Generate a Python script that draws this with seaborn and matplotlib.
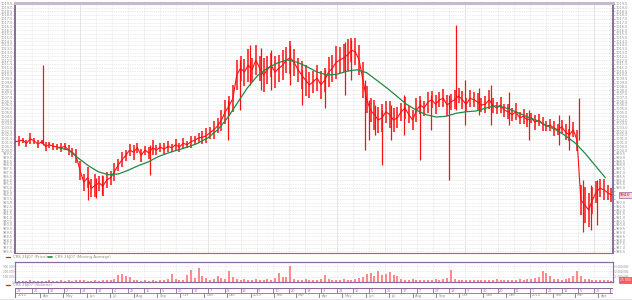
import numpy as np
import pandas as pd
import matplotlib
matplotlib.use("Agg")
import matplotlib.pyplot as plt
from matplotlib.lines import Line2D
from matplotlib.patches import Rectangle
import seaborn as sns

sns.set_style("white")
plt.rcParams['font.family'] = ['DejaVu Sans']

# ---------------- data ----------------
series_name = "CRS 26J07"
price_start = "2012-02-28"          # closes every 5 days
price_close = [
    1001.1, 1001.2, 1001.3, 1000.9, 1001.5, 1001.2, 1000.8, 1001.1, 1000.5, 1000.7,
    1000.5, 1000.4, 1000.3, 1000.5, 1000.0, 999.7, 999.2, 997.3, 995.7, 996.3,
    994.9, 995.3, 995.6, 995.2, 996.0, 996.3, 997.1, 998.0, 998.7, 999.3,
    1000.0, 999.7, 1000.3, 999.3, 1000.0, 999.6, 1000.3, 1000.0, 1000.4, 1000.1,
    1000.5, 1000.3, 1000.7, 1000.4, 1000.9, 1000.7, 1001.1, 1001.3, 1001.6, 1001.7,
    1001.9, 1002.3, 1002.7, 1003.2, 1004.0, 1005.1, 1005.9, 1006.9, 1010.0, 1010.9,
    1010.4, 1011.3, 1010.7, 1012.0, 1010.9, 1010.0, 1010.7, 1011.3, 1010.4, 1010.9,
    1011.3, 1012.0, 1012.3, 1011.7, 1010.7, 1010.0, 1009.3, 1008.7, 1009.1, 1009.6,
    1008.7, 1009.3, 1010.4, 1010.9, 1011.7, 1012.0, 1012.3, 1012.7, 1013.3, 1013.1,
    1012.0, 1009.3, 1006.7, 1005.3, 1004.7, 1004.0, 1004.3, 1005.1, 1004.7, 1004.0,
    1004.3, 1005.1, 1005.6, 1004.7, 1004.0, 1005.3, 1006.0, 1005.6, 1006.4, 1006.7,
    1006.1, 1006.7, 1006.9, 1006.0, 1006.4, 1006.7, 1007.2, 1006.7, 1006.1, 1006.9,
    1006.7, 1006.4, 1006.0, 1006.1, 1006.7, 1005.9, 1005.6, 1006.0, 1005.3, 1005.1,
    1004.7, 1005.1, 1004.3, 1004.5, 1004.0, 1004.3, 1003.7, 1004.0, 1003.5, 1003.2,
    1003.3, 1002.9, 1002.7, 1003.1, 1002.4, 1002.0, 1002.7, 1001.3, 993.3, 992.7,
    992.0, 993.3, 994.4, 994.9, 994.7, 994.3, 994.0,
]
# half of the daily high-low range around each close
price_halfrange = [
    0.4, 0.6, 0.3, 0.5, 0.7, 0.4, 0.5, 0.3, 0.6, 0.4,
    0.5, 0.4, 0.6, 0.5, 0.7, 0.6, 0.9, 1.3, 1.1, 1.4,
    1.2, 1.5, 1.0, 1.3, 1.1, 0.9, 1.2, 0.8, 1.0, 0.7,
    0.8, 1.0, 0.7, 0.9, 0.6, 0.8, 1.0, 0.7, 0.6, 0.8,
    0.7, 0.5, 0.8, 0.6, 0.7, 0.5, 0.8, 0.6, 0.7, 0.9,
    1.0, 0.8, 1.2, 1.0, 1.4, 1.6, 1.3, 1.8, 2.0, 1.7,
    1.8, 2.2, 1.6, 2.0, 1.7, 2.3, 1.9, 1.6, 2.1, 1.8,
    2.0, 1.7, 2.2, 1.8, 1.6, 1.9, 2.1, 1.7, 1.5, 1.8,
    1.9, 1.6, 2.0, 1.8, 2.2, 1.7, 1.9, 2.1, 1.6, 1.8,
    2.0, 2.4, 1.8, 1.6, 2.0, 1.7, 1.9, 1.5, 1.8, 1.6,
    1.4, 1.2, 1.5, 1.1, 1.3, 1.6, 1.2, 1.0, 1.4, 1.1,
    1.3, 1.0, 1.2, 1.4, 1.1, 1.3, 1.0, 1.2, 0.9, 1.1,
    1.0, 1.2, 0.9, 1.1, 1.3, 1.0, 0.8, 1.1, 0.9, 1.0,
    0.9, 1.1, 0.8, 1.0, 0.9, 0.7, 1.0, 0.8, 0.9, 0.7,
    0.8, 1.0, 0.7, 0.9, 1.1, 0.8, 1.0, 1.4, 2.0, 2.4,
    2.2, 1.8, 1.5, 1.2, 1.4, 1.0, 0.9,
]
spike_dates = ["2012-04-05", "2012-06-02", "2012-06-13", "2012-06-21", "2012-08-22",
               "2012-12-02", "2012-12-18", "2012-12-31", "2013-01-15", "2013-01-28",
               "2013-02-21", "2013-03-09", "2013-04-09", "2013-05-04", "2013-05-13",
               "2013-05-31", "2013-06-05", "2013-06-13", "2013-06-22", "2013-07-04",
               "2013-07-21", "2013-08-10", "2013-08-25", "2013-09-18", "2013-09-27",
               "2013-10-09", "2013-10-27", "2013-11-12", "2013-12-05", "2013-12-31",
               "2014-02-08", "2014-02-21", "2014-03-07", "2014-03-12", "2014-03-22",
               "2014-03-30"]
spike_low = [1000.7, 993.3, 993.6, 994.0, 996.7,
             1001.3, 1005.3, 1008.7, 1008.0, 1008.0,
             1008.7, 1006.0, 1005.6, 1007.3, 1009.3,
             1000.0, 1001.3, 1002.0, 998.0, 1001.3,
             1002.0, 998.7, 1002.7, 996.0, 1005.3,
             1003.3, 1004.7, 1003.3, 1003.3, 1001.3,
             1000.7, 1000.0, 1001.3, 989.1, 989.3,
             990.0]
spike_high = [1011.3, 996.0, 996.3, 996.7, 1000.7,
              1006.7, 1012.0, 1014.0, 1013.6, 1013.3,
              1014.0, 1010.7, 1010.7, 1014.4, 1014.7,
              1009.3, 1006.7, 1006.0, 1005.3, 1006.0,
              1007.3, 1006.7, 1007.3, 1007.3, 1016.7,
              1009.3, 1008.3, 1008.7, 1007.7, 1005.3,
              1004.7, 1004.7, 1006.9, 996.0, 995.3,
              996.0]

ma_start = "2012-04-25"             # moving average every 13 days
ma_values = [
    1000.3, 1000.0, 998.9, 997.9, 997.1, 996.7, 996.8, 997.3, 997.9, 998.4,
    999.1, 999.6, 1000.0, 1000.4, 1000.9, 1001.6, 1002.7, 1004.3, 1006.3, 1008.3,
    1009.9, 1010.9, 1011.6, 1012.0, 1011.7, 1011.1, 1010.4, 1010.0, 1010.1, 1010.5,
    1010.7, 1010.3, 1009.3, 1008.3, 1007.2, 1006.1, 1005.3, 1004.7, 1004.4, 1004.5,
    1004.9, 1005.1, 1005.2, 1005.6, 1005.9, 1005.6, 1005.1, 1004.5, 1004.0, 1003.3,
    1002.7, 1001.9, 1000.9, 999.5, 997.9, 996.3,
]

volume_k = [   # thousands, every 5 days (same dates as price)
    20, 15, 25, 10, 30, 20, 15, 25, 20, 35,
    25, 20, 30, 15, 40, 25, 30, 45, 35, 20,
    25, 30, 20, 40, 35, 30, 60, 130, 160, 110,
    90, 40, 30, 25, 35, 20, 30, 25, 40, 30,
    50, 150, 60, 40, 30, 130, 230, 80, 260, 120,
    70, 40, 60, 120, 80, 50, 210, 90, 60, 40,
    50, 40, 30, 60, 45, 35, 50, 40, 70, 170,
    90, 90, 310, 60, 40, 35, 50, 45, 30, 40,
    60, 130, 50, 40, 45, 35, 60, 40, 30, 50,
    70, 90, 150, 180, 120, 200, 140, 160, 190, 130,
    110, 60, 40, 30, 50, 35, 45, 30, 40, 35,
    50, 40, 60, 70, 220, 60, 40, 30, 35, 30,
    40, 30, 45, 35, 30, 40, 50, 35, 40, 45,
    40, 35, 50, 45, 60, 50, 70, 90, 200, 170,
    120, 60, 50, 40, 60, 70, 120, 200, 110, 60,
    50, 40, 45, 35, 40, 30, 25,
]

month_labels = ["2012", "Apr", "May", "Jun", "Jul", "Aug", "Sep", "Oct", "Nov", "Dec",
                "2013", "Feb", "Mar", "Apr", "May", "Jun", "Jul", "Aug", "Sep", "Oct",
                "Nov", "Dec", "2014", "Feb", "Mar", "Apr"]
price_ticks = [986.5 + 0.5 * k for k in range(67)]
vol_left_labels = ["0", "100 000", "200 000", "300 000"]
vol_right_labels = ["1 000 000", "2 000 000", "3 000 000"]
legend_labels = [f"{series_name} (Price)", f"{series_name} (Moving Average)", f"{series_name} (Volume)"]

# ---------------- styling ----------------
RED = "#ff1010"
GREEN = "#1f8a45"
VOLC = "#ff8a8a"
PURPLE = "#8a6a99"
LPURPLE = "#c9b6d1"
GRID = "#d9d9d9"
TXT = "#8c8c8c"

W, H = 632, 300
fig = plt.figure(figsize=(W / 100, H / 100), dpi=100)


def rect(x0, y0, x1, y1):
    return [x0 / W, 1 - y1 / H, (x1 - x0) / W, (y1 - y0) / H]


xmin = pd.Timestamp("2012-02-28")
xmax = pd.Timestamp("2014-04-20")
dates = pd.date_range(price_start, periods=len(price_close), freq="5D")
ma_dates = pd.date_range(ma_start, periods=len(ma_values), freq="13D")
ticks21 = pd.date_range("2012-03-21", xmax, freq="21D")
months = pd.date_range("2012-03-01", "2014-04-01", freq="MS")
ylo, yhi = 1020 - 253 / 7.5, 1020 - 3 / 7.5

# ---------------- price panel ----------------
ax = fig.add_axes(rect(15, 3, 613, 253))
ax.set_xlim(xmin, xmax)
ax.set_ylim(ylo, yhi)
for v in price_ticks:
    ax.axhline(v, color=GRID, lw=0.5, ls=(0, (1, 1.5)), zorder=0)
for k, d in enumerate(ticks21):
    solid = (k % 8 == 3)
    ax.axvline(d, color="#e0e0e0" if solid else GRID, lw=0.6 if solid else 0.5,
               ls="-" if solid else (0, (1, 1.5)), zorder=0)

close = np.array(price_close)
half = np.array(price_halfrange)
df_price = pd.DataFrame({"date": dates, "price": close})
df_ma = pd.DataFrame({"date": ma_dates, "ma": ma_values})
ax.vlines(dates, close - half, close + half, color=RED, lw=1.1, zorder=2)
ax.vlines(pd.to_datetime(spike_dates), spike_low, spike_high, color=RED, lw=0.9, zorder=3)
sns.lineplot(data=df_price, x="date", y="price", ax=ax, color=RED, lw=0.8, zorder=3)
sns.lineplot(data=df_ma, x="date", y="ma", ax=ax, color=GREEN, lw=0.9, zorder=4)

ax.set_yticks(price_ticks)
ax.set_yticklabels([f"{v:.1f}" for v in price_ticks])
ax.tick_params(axis="y", labelsize=2.5, colors=TXT, length=1.2, width=0.4, pad=0.6,
               left=True, right=False, labelleft=True, labelright=False)
ax.tick_params(axis="x", bottom=False, labelbottom=False)
ax.set_xlabel("")
ax.set_ylabel("")
for s in ["left", "right"]:
    ax.spines[s].set_color(PURPLE)
    ax.spines[s].set_linewidth(1.4)
ax.spines["top"].set_color(LPURPLE)
ax.spines["top"].set_linewidth(2.2)
ax.spines["bottom"].set_color(PURPLE)
ax.spines["bottom"].set_linewidth(0.8)

# right-hand price scale, with the last-price box covering the labels behind it
last = price_close[-1]
ax2 = ax.twinx()
ax2.set_ylim(ylo, yhi)
ax2.set_yticks(price_ticks)
ax2.set_yticklabels(["" if abs(v - last) < 0.8 else f"{v:.1f}" for v in price_ticks])
ax2.tick_params(axis="y", labelsize=2.5, colors=TXT, length=1.2, width=0.4, pad=0.6)
for s in ax2.spines.values():
    s.set_visible(False)
ax2.text(1.012, (last - ylo) / (yhi - ylo), f"{last:.1f}", transform=ax2.transAxes,
         fontsize=2.6, color="#cc0000", ha="left", va="center",
         bbox=dict(boxstyle="square,pad=0.25", fc="#ffd6de", ec=PURPLE, lw=0.5))

# ---------------- legend rows ----------------
def legend_item(x, y, color, label, lw=0.9):
    fig.add_artist(Line2D([x / W, (x + 4) / W], [1 - y / H, 1 - y / H], color=color, lw=lw))
    fig.text((x + 7) / W, 1 - y / H, label, fontsize=2.8, color=TXT, va="center", ha="left")


legend_item(6, 257, RED, legend_labels[0])
legend_item(48, 257, GREEN, legend_labels[1], lw=1.2)
legend_item(6, 285, RED, legend_labels[2])

# ---------------- volume panel ----------------
axv = fig.add_axes(rect(15, 262, 613, 282))
axv.set_xlim(xmin, xmax)
axv.set_ylim(0, 380)
for v in [100, 200, 300]:
    axv.axhline(v, color=GRID, lw=0.5, ls=(0, (1, 1.5)), zorder=0)
for d in ticks21:
    axv.axvline(d, color=GRID, lw=0.5, ls=(0, (1, 1.5)), zorder=0)
axv.bar(dates, volume_k, width=2.6, color=VOLC, lw=0, zorder=2)
axv.set_yticks([0, 100, 200, 300])
axv.set_yticklabels(vol_left_labels)
axv.tick_params(axis="y", labelsize=2.0, colors=TXT, length=0.8, width=0.4, pad=0.3)
axv.tick_params(axis="x", bottom=False, labelbottom=False)
axr = axv.twinx()
axr.set_ylim(0, 380)
axr.set_yticks([100, 200, 300])
axr.set_yticklabels(vol_right_labels)
axr.tick_params(axis="y", labelsize=2.0, colors=TXT, length=0.8, width=0.4, pad=0.3)
for a in (axv, axr):
    for s in a.spines.values():
        s.set_color(PURPLE)
        s.set_linewidth(0.8)
axv.text(1.012, 0.1, f"{volume_k[-1]} 000", transform=axv.transAxes, fontsize=2.2,
         color="white", ha="left", va="center",
         bbox=dict(boxstyle="square,pad=0.25", fc="#ff5a5a", ec=PURPLE, lw=0.5))

# ---------------- date axis ----------------
axd = fig.add_axes(rect(15, 288, 613, 298))
axd.set_xlim(xmin, xmax)
axd.set_ylim(0, 2)
axd.axis("off")
axd.add_patch(Rectangle((0, 0), 1, 1, transform=axd.transAxes, fill=False, ec=PURPLE, lw=0.8))
axd.axhline(1, color=PURPLE, lw=0.6)
bounds21 = [xmin] + list(ticks21)
for k, d in enumerate(bounds21):
    if k > 0:
        axd.plot([d, d], [1, 2], color=PURPLE, lw=0.6)
    axd.text(d + pd.Timedelta(days=2), 1.5, f"{d.day}", fontsize=2.6, color=TXT,
             va="center", ha="left", clip_on=True)
for k, d in enumerate(months):
    if k > 0:
        axd.plot([d, d], [0, 1], color=PURPLE, lw=0.6)
    start = xmin if k == 0 else d
    axd.text(start + pd.Timedelta(days=3), 0.5, month_labels[k], fontsize=2.6, color=TXT,
             va="center", ha="left", clip_on=True)

fig.add_artist(Rectangle((0, 0), 1, 1.5 / H, transform=fig.transFigure, fc="#e6e6e6", ec="none"))

fig.savefig("out.png", dpi=100)
